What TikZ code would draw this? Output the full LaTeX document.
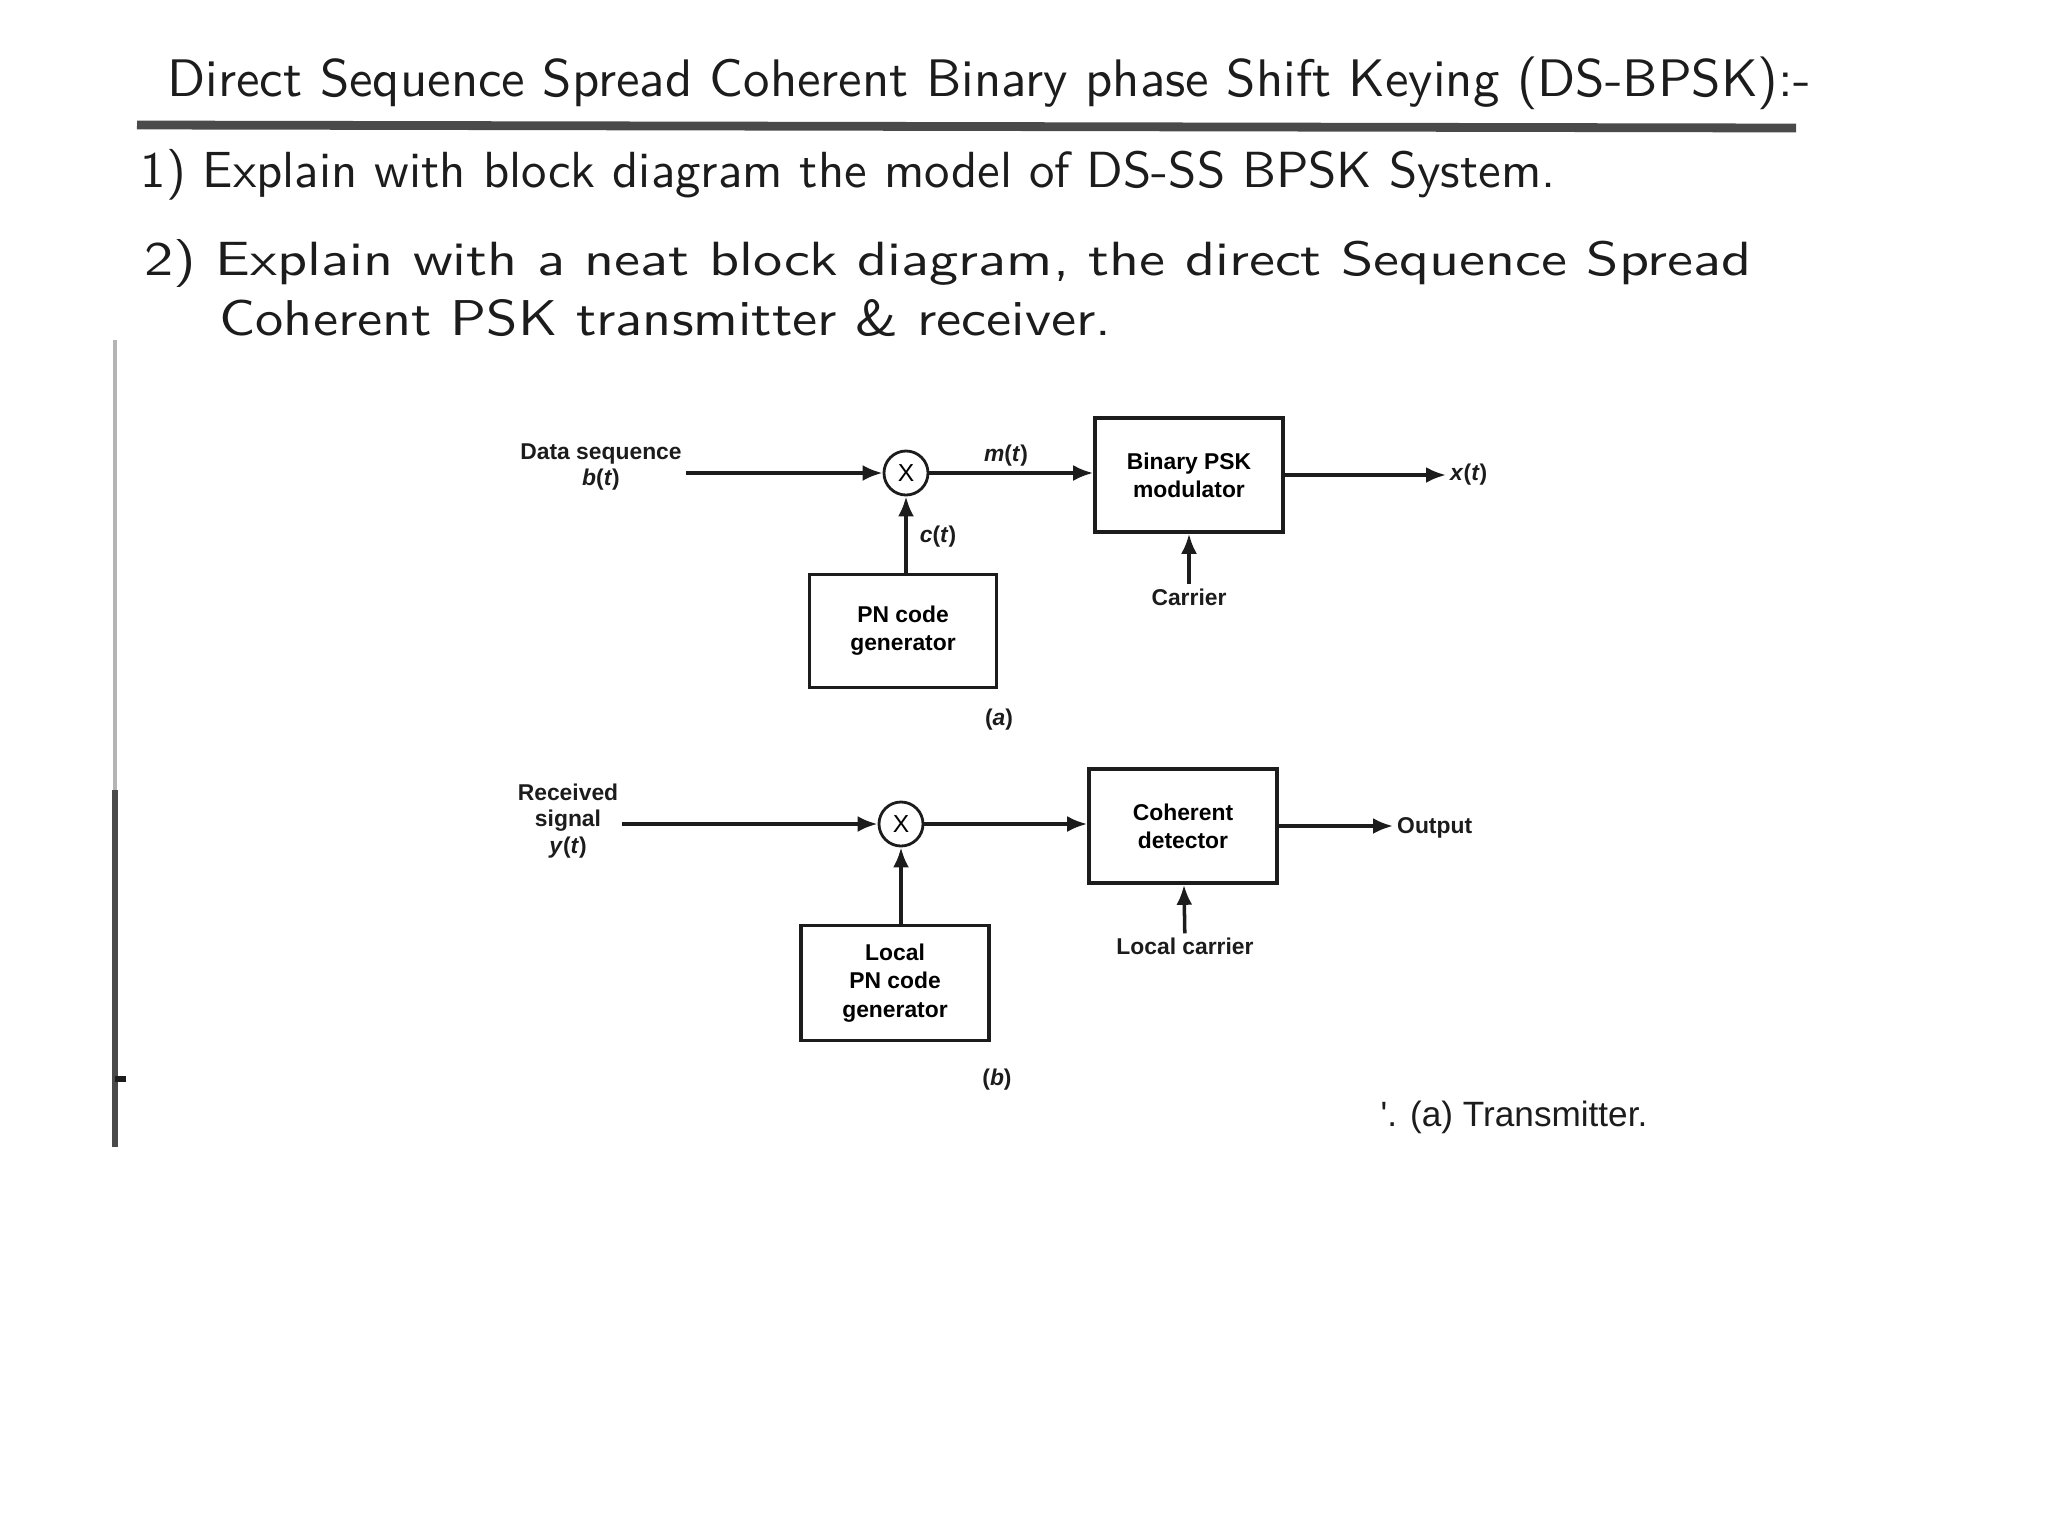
\documentclass[tikz,border=0pt]{standalone}
\usepackage{fontspec}
\usepackage{graphicx}
\usetikzlibrary{arrows.meta,positioning,calc}
\newfontfamily\dgfont{Liberation Sans}
\definecolor{scanink}{HTML}{1C1C1C}
\definecolor{scangray}{HTML}{4A4A4A}
\definecolor{scanrule}{HTML}{B4B4B4}
\tikzset{
  hw/.style={anchor=west, inner sep=0pt, text=scanink, font=\sffamily},
  blk/.style={draw=scanink, line width=1pt, align=center, font=\dgfont\bfseries\fontsize{6.5}{8}\selectfont, minimum width=1.88cm, minimum height=1.14cm, inner sep=1pt},
  mx/.style={circle, draw=scanink, line width=0.8pt, minimum size=0.44cm, inner sep=0pt, font=\dgfont\fontsize{7}{8}\selectfont},
  arr/.style={-{Latex[length=2mm, width=1.6mm]}, line width=1pt, draw=scanink},
  lbl/.style={align=center, font=\dgfont\bfseries\fontsize{6.5}{7.5}\selectfont, text=scanink, inner sep=1pt},
}
\newcommand{\hwline}[3]{\resizebox{#1}{#2}{#3}}

\begin{document}
\begin{tikzpicture}[x=0.01cm, y=-0.01cm]
  \useasboundingbox (0,0) rectangle (2048,1536);
  % handwritten heading
  \node[hw] (title) at (167,83) {\hwline{16.42cm}{!}{Direct Sequence Spread Coherent Binary phase Shift Keying (DS-BPSK):-}};
  \draw[scangray, line width=2.5pt] (137,125) -- (1796,128);
  \node[hw] (q1) at (140,175) {\hwline{14.14cm}{!}{1) Explain with block diagram the model of DS-SS BPSK System.}};
  \node[hw] (q2) at (144,263) {\hwline{16.06cm}{0.36cm}{2) Explain with a neat block diagram, the direct Sequence Spread}};
  \node[hw] (q3) at (219,318) {\hwline{8.91cm}{0.36cm}{Coherent PSK transmitter \& receiver.}};
  \draw[scanrule, line width=1.3pt] (115,340) -- (115,790);
  \draw[scangray, line width=1.5pt] (115,790) -- (115,1147);
  \draw[scanink, line width=1.5pt] (115,1079) -- (126,1079);

  % (a) transmitter
  \node[mx] (m1) at (906,473) {X};
  \node[blk] (psk) at (1189,475) {Binary PSK\\modulator};
  \node[blk, minimum width=1.87cm, minimum height=1.13cm] (pn) at (903,631) {PN code\\generator};
  \node[lbl] (din) at (601,467) {Data sequence\\\textit{b}(\textit{t})};
  \node[lbl] (mt) at (1006,456) {\textit{m}(\textit{t})};
  \node[lbl, anchor=west] (xt) at (1446,475) {\textit{x}(\textit{t})};
  \node[lbl] (car) at (1189,597) {Carrier};
  \node[lbl] (ct) at (938,537) {\textit{c}(\textit{t})};
  \node[lbl] (capa) at (999,720) {(\textit{a})};
  \draw[arr] (din.east |- m1) -- (m1);
  \draw[arr] (m1) -- (m1 -| psk.west);
  \draw[arr] (psk.east) -- (xt.west);
  \draw[arr] (car) -- (psk);
  \draw[arr] (pn.north -| m1) -- (m1);

  % (b) receiver
  \node[mx] (m2) at (901,824) {X};
  \node[blk] (coh) at (1183,826) {Coherent\\detector};
  \node[blk, minimum height=1.15cm] (lpn) at (895,983) {Local\\PN code\\generator};
  \node[lbl] (rx) at (568,821) {Received\\signal\\\textit{y}(\textit{t})};
  \node[lbl, anchor=west] (outl) at (1393,828) {Output};
  \node[lbl] (lcar) at (1185,946) {Local carrier};
  \node[lbl] (capb) at (997,1080) {(\textit{b})};
  \draw[arr] (rx.east |- m2) -- (m2);
  \draw[arr] (m2) -- (m2 -| coh.west);
  \draw[arr] (coh.east) -- (coh.east -| outl.west);
  \draw[arr] (lcar) -- (coh);
  \draw[arr] (lpn.north -| m2) -- (m2);

  \node[anchor=west, inner sep=0pt, text=scanink, font=\dgfont\fontsize{10}{12}\selectfont] (cap) at (1380,1117) {'. (a) Transmitter.};
\end{tikzpicture}
\end{document}
